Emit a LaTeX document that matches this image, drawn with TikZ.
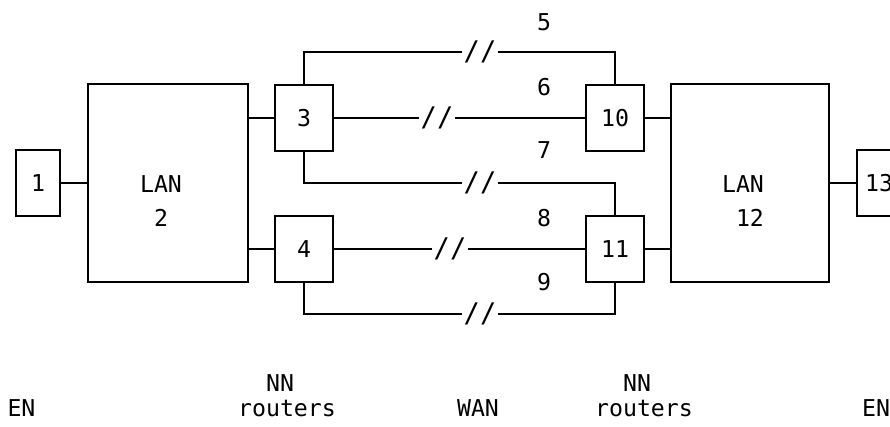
\documentclass[tikz,border=0pt]{standalone}
\usepackage{fontspec}
\setmonofont{DejaVu Sans Mono}
\begin{document}
\begin{tikzpicture}[x=0.5pt, y=-0.5pt, line width=1pt,
		every node/.style={font=\ttfamily\fontsize{11.6}{17}\selectfont},
		box/.style={draw, rectangle, inner sep=0pt},
		en/.style={box, minimum width=22pt, minimum height=33pt},
		router/.style={box, minimum width=29pt, minimum height=33pt},
		lan/.style={box, minimum width=80pt, minimum height=99pt},
		lantxt/.style={align=left, xshift=-3.5pt, yshift=-9pt},
		brk/.style={fill=white, inner sep=0.3pt, font=\ttfamily\fontsize{13.5}{16}\selectfont}]
	\clip (0,0) rectangle (890,427);
	% ================= 1. 节点：终端、局域网、路由器 =================
	\node[en] (n1) at (38,183) {1};
	\node[lan, label={[lantxt]center:{LAN\\\hphantom{L}2}}] (lan2) at (168,183) {};
	\node[router] (r3) at (304,118) {3};
	\node[router] (r4) at (304,249) {4};
	\node[router] (r10) at (615,118) {10};
	\node[router] (r11) at (615,249) {11};
	\node[lan, minimum width=79pt, label={[lantxt]center:{LAN\\\hphantom{L}12}}] (lan12) at (750,183) {};
	\node[en] (n13) at (879,183) {13};
	
	% ================= 2. 局域网连线 =================
	\draw (n1.east) -- (n1.east -| lan2.west);
	\draw (r3.west) -- (r3.west -| lan2.east);
	\draw (r4.west) -- (r4.west -| lan2.east);
	\draw (r10.east) -- (r10.east -| lan12.west);
	\draw (r11.east) -- (r11.east -| lan12.west);
	\draw (n13.west) -- (n13.west -| lan12.east);
	
	% ================= 3. 广域网链路 (带断线标记) =================
	\node[brk] (b5) at (480,52) {//};
	\node[brk] (b6) at (437,118) {//};
	\node[brk] (b7) at (480,183) {//};
	\node[brk] (b8) at (450,249) {//};
	\node[brk] (b9) at (480,314) {//};
	\draw (r3.north) |- (b5) -| (r10.north);
	\draw (r3.east) -- (b6) -- (r10.west);
	\draw (r3.south) |- (b7) -| (r11.north);
	\draw (r4.east) -- (b8) -- (r11.west);
	\draw (r4.south) |- (b9) -| (r11.south);
	
	% 链路编号
	\node (t5) at (544,22.5) {5};
	\node (t6) at (544,87.5) {6};
	\node (t7) at (544,150) {7};
	\node (t8) at (544,218.5) {8};
	\node (t9) at (544,282.5) {9};
	
	% ================= 4. 底部说明文字 =================
	\node[anchor=base] (en1) at (21.5,417) {EN};
	\node[anchor=base] (nn1) at (280,392) {NN};
	\node[anchor=base] (rt1) at (287,417) {routers};
	\node[anchor=base] (wan) at (478,417) {WAN};
	\node[anchor=base] (nn2) at (637,392) {NN};
	\node[anchor=base] (rt2) at (644,417) {routers};
	\node[anchor=base] (en2) at (876,417) {EN};
\end{tikzpicture}
\end{document}
